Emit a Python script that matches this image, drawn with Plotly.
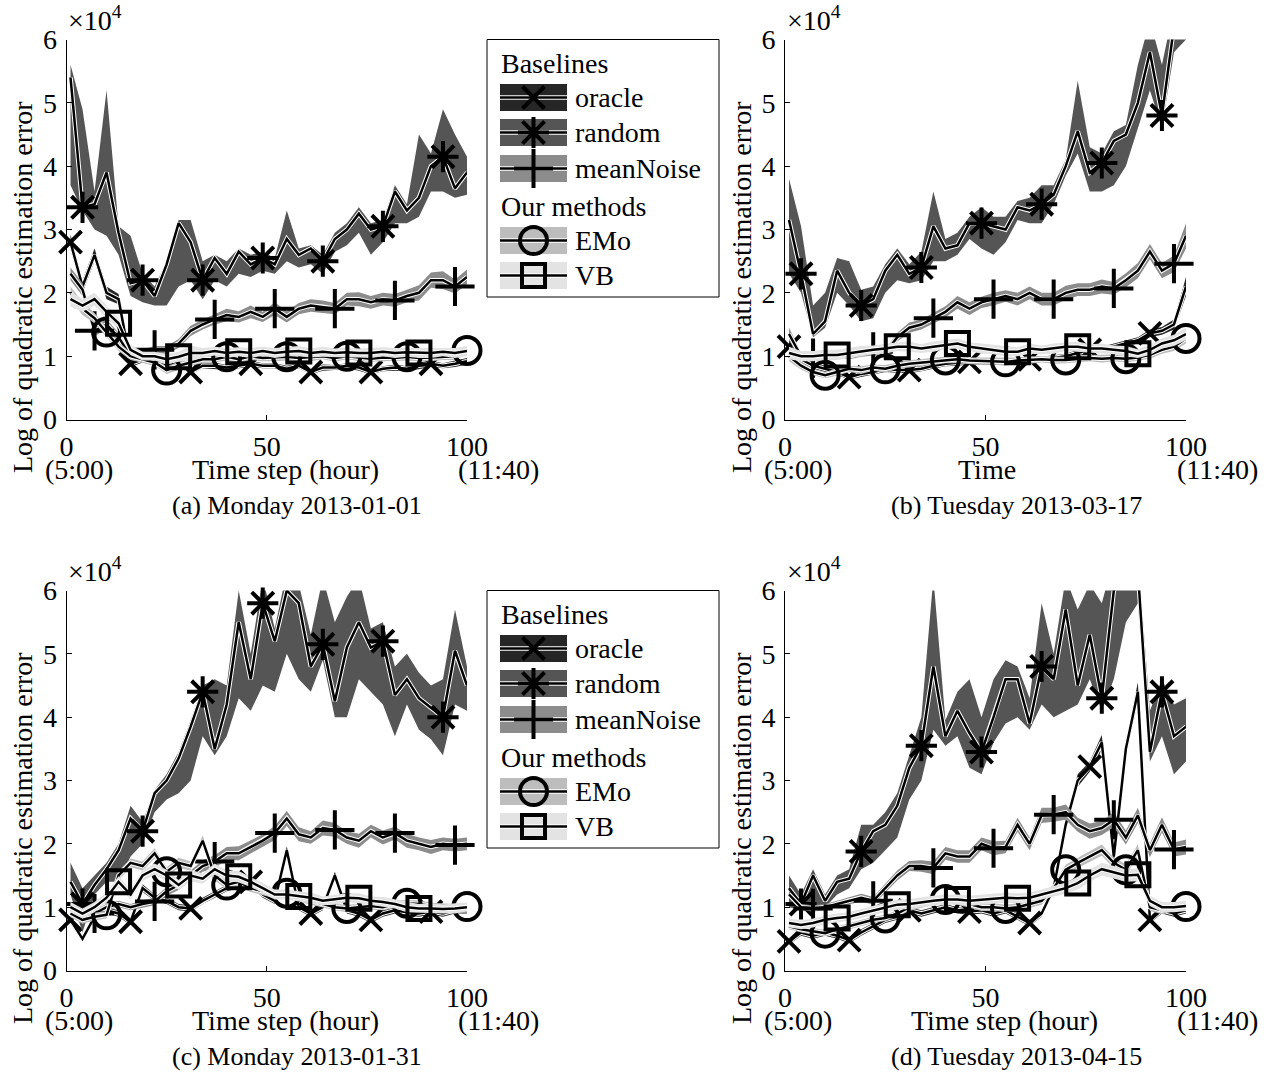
import plotly.graph_objects as go

FONT = "Liberation Serif"
X = list(range(1, 101, 3))  # time steps 1,4,...,100 (34 samples)

SERIES = ["oracle", "random", "meanNoise", "EMo", "VB"]
BAND_COLORS = {"oracle": "#262626", "random": "#555555", "meanNoise": "#8c8c8c",
               "EMo": "#bdbdbd", "VB": "#e3e3e3"}
SYMBOLS = {"oracle": ("x-thin-open", 22), "random": ("asterisk-open", 26),
           "meanNoise": ("cross-thin-open", 28), "EMo": ("circle-open", 27),
           "VB": ("square-open", 23)}
MARK_OFFSET = {"oracle": 0, "random": 1, "meanNoise": 2, "EMo": 3, "VB": 4}

CAPTIONS = ["(a) Monday 2013-01-01", "(b) Tuesday 2013-03-17",
            "(c) Monday 2013-01-31", "(d) Tuesday 2013-04-15"]
XTITLES = ["Time step (hour)", "Time", "Time step (hour)", "Time step (hour)"]
YTITLE = "Log of quadratic estimation error"
XTICKS = [0, 50, 100]
XTICKTEXT = ["0", "50", "100"]
XSUBTEXT = ["(5:00)", "(11:40)"]
YTICKS = [0, 1, 2, 3, 4, 5, 6]

# ---------------- panel (a) ----------------
oracle_a = [2.8,2.1,2.6,2.0,1.9,0.88,0.95,0.9,0.85,0.9, 0.75,0.85,0.85,0.82,0.85,0.88,0.85,0.85,0.8,0.85, 0.75,0.82,0.82,0.85,0.82,0.75,0.8,0.82,0.8,0.85, 0.88,0.85,0.88,0.92]
oracle_a_sp = [0.12,0.1,0.1,0.1,0.08,0.05,0.05,0.04,0.04,0.05, 0.04,0.04,0.05,0.04,0.04,0.05,0.04,0.04,0.05,0.04, 0.04,0.05,0.04,0.04,0.05,0.04,0.04,0.05,0.04,0.05, 0.05,0.04,0.05,0.05]
random_a = [5.4,3.35,3.4,3.9,2.95,2.15,2.2,1.95,2.45,3.1, 2.8,2.2,2.55,2.3,2.65,2.45,2.55,2.45,2.85,2.6, 2.7,2.5,2.85,3.0,3.25,3.0,3.05,3.6,3.3,3.5, 4.0,4.15,3.65,3.9]
random_a_lo = [3.7,3.3,3.0,2.9,2.6,1.95,1.85,1.8,1.8,2.1, 2.2,1.9,2.2,2.1,2.3,2.25,2.35,2.3,2.5,2.4, 2.45,2.3,2.65,2.75,2.95,2.6,2.8,3.1,3.1,3.2, 3.6,3.6,3.5,3.55]
random_a_hi = [5.6,4.9,3.6,5.2,3.05,2.9,2.3,2.1,2.5,3.15, 3.15,2.5,2.6,2.5,2.7,2.6,2.65,2.55,3.3,2.7, 2.75,2.6,2.95,3.1,3.35,3.1,3.15,3.7,3.4,4.5, 4.2,4.9,4.5,4.15]
noise_a = [2.3,2.05,1.4,1.5,1.3,1.0,1.05,1.1,1.1,1.2, 1.4,1.5,1.58,1.65,1.62,1.7,1.62,1.75,1.62,1.75, 1.8,1.78,1.75,1.9,1.9,1.85,1.9,1.88,1.95,2.0, 2.2,2.2,2.1,2.25]
noise_a_sp = [0.1,0.1,0.08,0.08,0.07,0.06,0.06,0.06,0.06,0.07, 0.08,0.08,0.08,0.1,0.09,0.1,0.08,0.1,0.09,0.09, 0.1,0.1,0.09,0.1,0.11,0.1,0.1,0.1,0.1,0.12, 0.12,0.14,0.11,0.12]
emo_a = [2.0,1.75,1.6,1.38,1.15,1.0,0.95,0.9,0.78,0.85, 0.9,0.95,0.95,0.99,0.95,1.0,0.97,0.98,0.99,0.97, 0.98,1.0,0.97,1.0,0.98,0.96,0.98,0.97,0.99,0.97, 0.98,0.99,1.0,1.09]
emo_a_sp = [0.1,0.1,0.08,0.08,0.07,0.06,0.06,0.05,0.06,0.06, 0.05,0.06,0.05,0.06,0.05,0.06,0.05,0.06,0.06,0.05, 0.06,0.05,0.06,0.05,0.06,0.05,0.06,0.05,0.06,0.05, 0.06,0.05,0.06,0.06]
vb_a = [1.9,1.8,1.9,1.7,1.52,1.1,1.0,1.0,0.95,0.99, 1.05,1.05,1.08,1.05,1.07,1.05,1.08,1.05,1.07,1.08, 1.05,1.07,1.05,1.06,1.05,1.05,1.07,1.05,1.06,1.05, 1.05,1.07,1.05,1.08]
vb_a_sp = [0.12,0.1,0.1,0.1,0.08,0.08,0.07,0.07,0.08,0.08, 0.12,0.08,0.07,0.08,0.07,0.08,0.07,0.08,0.07,0.08, 0.07,0.08,0.07,0.08,0.07,0.08,0.07,0.08,0.07,0.08, 0.08,0.07,0.08,0.08]

# ---------------- panel (b) ----------------
oracle_b = [1.15,0.95,0.85,0.8,0.75,0.67,0.72,0.75,0.8,0.78, 0.78,0.8,0.85,0.88,0.9,0.91,0.92,0.9,0.92,0.93, 0.95,0.95,0.97,1.0,1.05,1.1,1.1,1.15,1.2,1.25, 1.36,1.4,1.5,2.1]
oracle_b_sp = [0.1,0.06,0.05,0.05,0.05,0.04,0.05,0.04,0.05,0.04, 0.05,0.04,0.05,0.04,0.05,0.04,0.05,0.04,0.05,0.04, 0.05,0.04,0.05,0.04,0.05,0.04,0.05,0.05,0.05,0.05, 0.06,0.06,0.08,0.15]
random_b = [3.15,2.3,1.35,1.55,2.35,2.0,1.8,1.9,2.35,2.6, 2.3,2.4,3.05,2.7,2.75,3.1,3.1,3.05,3.0,3.35, 3.3,3.4,3.55,4.0,4.55,3.9,4.05,4.4,4.5,5.0, 5.8,4.8,6.2,6.5]
random_b_lo = [2.3,2.0,1.3,1.45,2.0,1.8,1.55,1.6,2.0,2.2, 2.15,2.2,2.5,2.5,2.6,2.85,2.7,2.6,2.8,3.15, 3.1,3.1,3.4,3.85,4.2,3.6,3.6,3.7,4.0,4.6, 5.2,4.6,5.8,6.0]
random_b_hi = [3.8,3.05,1.8,2.0,2.55,2.5,2.05,2.1,2.45,2.7, 2.45,2.65,3.6,2.85,2.95,3.2,3.35,3.2,3.2,3.45, 3.5,3.7,3.7,4.1,5.35,4.3,4.2,4.55,4.65,5.6, 6.3,5.6,6.5,7.0]
noise_b = [1.35,1.0,0.97,1.0,1.02,1.0,1.05,1.07,1.05,1.3, 1.45,1.5,1.6,1.7,1.85,1.75,1.85,1.9,1.95,1.9, 2.0,1.9,1.9,2.0,2.05,2.05,2.1,2.07,2.2,2.35, 2.65,2.35,2.46,2.9]
noise_b_sp = [0.1,0.06,0.05,0.05,0.05,0.05,0.06,0.06,0.06,0.07, 0.08,0.08,0.08,0.09,0.1,0.1,0.09,0.1,0.09,0.1, 0.1,0.1,0.1,0.11,0.1,0.1,0.11,0.1,0.11,0.12, 0.12,0.12,0.13,0.2]
emo_b = [1.0,0.85,0.75,0.7,0.75,0.8,0.78,0.82,0.8,0.85, 0.88,0.9,0.92,0.94,0.95,0.93,0.92,0.92,0.91,0.93, 0.94,0.95,0.94,0.94,0.96,0.97,0.96,0.97,0.96,0.98, 1.02,1.1,1.15,1.28]
emo_b_sp = [0.08,0.06,0.05,0.05,0.06,0.05,0.06,0.05,0.06,0.05, 0.06,0.05,0.06,0.05,0.06,0.05,0.06,0.05,0.06,0.05, 0.06,0.05,0.06,0.05,0.06,0.05,0.06,0.05,0.06,0.05, 0.06,0.06,0.07,0.08]
vb_b = [1.05,1.0,1.0,1.02,1.02,1.05,1.08,1.1,1.12,1.15, 1.15,1.12,1.15,1.18,1.2,1.15,1.12,1.1,1.07,1.07, 1.12,1.1,1.12,1.15,1.15,1.12,1.12,1.1,1.08,1.04, 1.1,1.2,1.25,1.35]
vb_b_sp = [0.1,0.08,0.08,0.08,0.08,0.08,0.08,0.07,0.08,0.07, 0.08,0.07,0.08,0.07,0.08,0.07,0.08,0.07,0.08,0.07, 0.08,0.07,0.08,0.07,0.08,0.07,0.08,0.07,0.08,0.07, 0.08,0.08,0.09,0.1]

# ---------------- panel (c) ----------------
oracle_c = [0.8,0.5,0.85,0.95,0.9,0.77,1.3,1.15,1.1,1.0, 0.98,1.1,1.2,1.3,1.35,1.4,1.2,1.1,1.9,1.0, 0.9,1.0,1.5,0.95,0.9,0.8,0.9,0.95,0.92,0.9, 0.93,0.9,0.95,0.95]
oracle_c_sp = [0.06,0.05,0.05,0.05,0.05,0.05,0.06,0.05,0.05,0.05, 0.05,0.05,0.05,0.05,0.05,0.05,0.05,0.05,0.06,0.05, 0.05,0.05,0.06,0.05,0.05,0.05,0.05,0.05,0.05,0.05, 0.05,0.05,0.05,0.05]
random_c = [1.4,1.05,1.35,1.6,1.9,2.4,2.2,2.8,3.0,3.35, 3.85,4.4,3.5,4.2,5.5,4.6,5.8,5.2,6.0,5.8, 4.8,5.15,4.25,5.1,5.5,5.1,5.2,4.35,4.6,4.3, 4.15,4.0,5.05,4.5]
random_c_lo = [1.2,0.6,1.2,1.4,1.4,1.8,2.0,2.5,2.7,2.8, 3.0,3.7,3.4,3.7,4.3,4.1,4.5,4.4,5.0,4.6, 4.4,4.9,4.0,4.0,4.6,4.4,4.2,3.7,4.2,3.8, 3.65,3.4,4.2,4.1]
random_c_hi = [1.7,1.3,1.5,1.7,2.0,2.6,2.35,2.85,3.1,3.45, 3.95,4.5,4.6,4.5,6.0,5.0,6.2,5.4,6.3,6.1, 5.3,6.2,5.5,5.9,6.2,5.4,5.5,4.8,5.0,4.7, 4.5,4.6,5.7,4.8]
noise_c = [1.0,0.92,0.9,1.0,1.05,1.0,1.05,1.09,1.25,1.35, 1.5,1.65,1.72,1.85,1.85,1.95,2.05,2.17,2.4,2.15, 2.1,2.25,2.22,2.1,2.05,2.2,2.1,2.17,2.05,2.0, 1.95,2.0,1.98,2.0]
noise_c_sp = [0.06,0.05,0.05,0.05,0.05,0.05,0.06,0.06,0.07,0.08, 0.08,0.09,0.1,0.1,0.11,0.1,0.1,0.11,0.12,0.11, 0.1,0.12,0.11,0.1,0.11,0.1,0.11,0.1,0.11,0.1, 0.11,0.1,0.1,0.1]
emo_c = [0.9,0.8,0.85,0.88,1.5,1.7,1.65,1.85,1.56,1.7, 1.65,2.05,1.5,1.35,1.4,1.3,1.25,1.2,1.22,1.15, 1.1,1.05,1.0,0.98,1.0,1.02,1.0,1.05,1.06,1.05, 1.02,1.0,1.0,1.01]
emo_c_sp = [0.06,0.06,0.06,0.06,0.07,0.07,0.07,0.08,0.07,0.08, 0.07,0.08,0.07,0.07,0.07,0.06,0.06,0.06,0.06,0.06, 0.06,0.06,0.05,0.06,0.05,0.06,0.05,0.06,0.05,0.06, 0.05,0.06,0.05,0.06]
vb_c = [1.0,0.9,1.0,1.15,1.4,1.2,1.5,1.6,1.5,1.35, 1.5,1.45,1.6,1.5,1.48,1.4,1.3,1.2,1.2,1.17, 1.15,1.1,1.12,1.15,1.14,1.1,1.08,1.05,1.0,0.98, 0.98,0.97,0.98,1.0]
vb_c_sp = [0.08,0.08,0.08,0.08,0.09,0.08,0.09,0.09,0.09,0.08, 0.09,0.08,0.09,0.08,0.09,0.08,0.08,0.08,0.08,0.08, 0.08,0.07,0.08,0.07,0.08,0.07,0.08,0.07,0.08,0.07, 0.08,0.07,0.08,0.07]

# ---------------- panel (d) ----------------
oracle_d = [0.46,0.6,0.55,0.6,0.55,0.48,0.6,0.7,0.8,0.85, 0.95,0.9,0.95,1.0,0.95,0.93,0.95,0.9,0.95,0.85, 0.75,0.9,1.3,2.3,3.0,3.22,3.6,1.8,3.5,4.4, 0.8,0.95,0.9,0.95]
oracle_d_sp = [0.05,0.05,0.05,0.05,0.05,0.05,0.05,0.05,0.05,0.05, 0.05,0.05,0.05,0.05,0.05,0.05,0.05,0.05,0.05,0.05, 0.05,0.05,0.07,0.1,0.1,0.08,0.12,0.1,0.12,0.15, 0.05,0.05,0.05,0.05]
random_d = [1.3,1.05,1.5,1.1,1.4,1.45,1.88,2.2,2.3,2.6, 3.2,3.55,4.8,3.7,4.1,3.75,3.45,4.0,4.6,4.6, 3.9,4.8,4.6,5.7,4.5,5.3,4.3,6.0,6.3,6.3, 3.45,4.4,3.7,3.85]
random_d_lo = [1.0,0.95,0.95,1.0,1.2,1.3,1.6,1.7,1.9,2.1, 2.7,3.0,3.8,3.55,3.7,3.2,3.1,3.6,3.9,4.0, 3.8,4.2,4.0,4.1,4.2,4.6,4.1,4.6,5.5,5.8, 3.3,3.7,3.1,3.3]
random_d_hi = [1.5,1.2,1.6,1.2,1.5,1.6,2.3,2.3,2.5,2.8, 3.4,4.0,6.2,3.95,4.4,4.6,4.0,4.6,4.9,4.8, 4.3,5.8,5.0,6.2,5.7,6.1,5.8,6.5,6.6,6.6, 4.1,4.6,4.2,4.3]
noise_d = [1.2,1.0,0.98,1.0,1.05,1.1,1.15,1.1,1.3,1.5, 1.65,1.65,1.62,1.85,1.8,1.8,2.0,1.93,1.95,2.3, 2.0,2.45,2.46,2.5,2.3,2.2,2.25,2.38,2.1,2.45, 1.9,2.3,1.91,1.95]
noise_d_sp = [0.06,0.05,0.05,0.05,0.05,0.05,0.06,0.06,0.07,0.08, 0.08,0.09,0.1,0.1,0.1,0.1,0.1,0.11,0.1,0.11, 0.1,0.12,0.11,0.12,0.11,0.12,0.11,0.12,0.11,0.12, 0.11,0.12,0.11,0.12]
emo_d = [0.7,0.65,0.62,0.59,0.65,0.7,0.75,0.8,0.83,0.9, 1.0,1.05,1.1,1.12,1.1,1.05,1.0,1.0,0.98,1.0, 1.05,1.1,1.3,1.59,1.7,1.8,1.9,1.7,1.59,1.9, 1.0,0.95,1.0,1.01]
emo_d_sp = [0.05,0.05,0.05,0.05,0.05,0.05,0.05,0.05,0.05,0.05, 0.06,0.06,0.06,0.06,0.06,0.06,0.06,0.06,0.06,0.06, 0.06,0.06,0.07,0.08,0.08,0.09,0.09,0.08,0.09,0.09, 0.06,0.06,0.06,0.06]
vb_d = [0.75,0.72,0.75,0.8,0.83,0.85,0.9,0.95,1.0,1.04, 1.05,1.08,1.1,1.12,1.12,1.1,1.12,1.14,1.15,1.14, 1.15,1.2,1.25,1.3,1.38,1.5,1.6,1.55,1.5,1.51, 1.1,1.0,1.0,1.02]
vb_d_sp = [0.07,0.07,0.07,0.07,0.07,0.07,0.07,0.07,0.08,0.08, 0.08,0.08,0.08,0.08,0.08,0.08,0.08,0.08,0.08,0.08, 0.08,0.08,0.09,0.09,0.1,0.1,0.1,0.1,0.1,0.1, 0.08,0.08,0.08,0.08]

PANELS = [
    {"oracle": (oracle_a, oracle_a_sp), "random": (random_a, random_a_lo, random_a_hi),
     "meanNoise": (noise_a, noise_a_sp), "EMo": (emo_a, emo_a_sp), "VB": (vb_a, vb_a_sp)},
    {"oracle": (oracle_b, oracle_b_sp), "random": (random_b, random_b_lo, random_b_hi),
     "meanNoise": (noise_b, noise_b_sp), "EMo": (emo_b, emo_b_sp), "VB": (vb_b, vb_b_sp)},
    {"oracle": (oracle_c, oracle_c_sp), "random": (random_c, random_c_lo, random_c_hi),
     "meanNoise": (noise_c, noise_c_sp), "EMo": (emo_c, emo_c_sp), "VB": (vb_c, vb_c_sp)},
    {"oracle": (oracle_d, oracle_d_sp), "random": (random_d, random_d_lo, random_d_hi),
     "meanNoise": (noise_d, noise_d_sp), "EMo": (emo_d, emo_d_sp), "VB": (vb_d, vb_d_sp)},
]

# ---------------- layout geometry (pixels) ----------------
W, H = 1274, 1075
PX_X = [(66.5, 467), (785, 1186), (66.5, 467), (785, 1186)]
PX_Y = [(39.5, 419.5), (39.5, 419.5), (590.5, 970.5), (590.5, 970.5)]
OFFS = [(0, 0), (719, 0), (0, 551), (719, 551)]
FS = 28

fig = go.Figure()

def ax_name(i, kind):
    return kind if i == 0 else f"{kind}{i + 1}"

for p, panel in enumerate(PANELS):
    xa, ya = ax_name(p, "x"), ax_name(p, "y")
    for s in SERIES:
        vals = panel[s]
        mean = vals[0]
        if s == "random":
            lo, hi = vals[1], vals[2]
        else:
            lo = [m - d for m, d in zip(mean, vals[1])]
            hi = [m + d for m, d in zip(mean, vals[1])]
        fig.add_trace(go.Scatter(x=X, y=lo, mode="lines", line=dict(width=0, color=BAND_COLORS[s]),
                                 xaxis=xa, yaxis=ya, showlegend=False, hoverinfo="skip"))
        fig.add_trace(go.Scatter(x=X, y=hi, mode="lines", line=dict(width=0, color=BAND_COLORS[s]),
                                 fill="tonexty", fillcolor=BAND_COLORS[s],
                                 xaxis=xa, yaxis=ya, showlegend=False, hoverinfo="skip"))
        fig.add_trace(go.Scatter(x=X, y=mean, mode="lines", line=dict(width=4.5, color="white"),
                                 xaxis=xa, yaxis=ya, showlegend=False, hoverinfo="skip"))
        fig.add_trace(go.Scatter(x=X, y=mean, mode="lines", line=dict(width=2.5, color="black"),
                                 xaxis=xa, yaxis=ya, showlegend=False, name=s))
        idx = list(range(MARK_OFFSET[s], len(X), 5))
        sym, size = SYMBOLS[s]
        fig.add_trace(go.Scatter(x=[X[i] for i in idx], y=[mean[i] for i in idx], mode="markers",
                                 marker=dict(symbol=sym, size=size, color="black",
                                             line=dict(color="black", width=4)),
                                 cliponaxis=False, xaxis=xa, yaxis=ya, showlegend=False, name=s))

# ---------------- axes ----------------
tickfont = dict(family=FONT, size=FS, color="black")
layout_axes = {}
for p in range(4):
    x0, x1 = PX_X[p]
    ytop, ybot = PX_Y[p]
    xk = "xaxis" if p == 0 else f"xaxis{p + 1}"
    yk = "yaxis" if p == 0 else f"yaxis{p + 1}"
    layout_axes[xk] = dict(domain=[x0 / W, x1 / W], range=[0, 100], anchor=ax_name(p, "y"),
                           tickvals=XTICKS, ticktext=XTICKTEXT, ticks="inside", ticklen=5,
                           tickcolor="black", showline=True, linecolor="black", linewidth=1,
                           showgrid=False, zeroline=False, tickfont=tickfont,
                           ticklabelstandoff=2, fixedrange=True, automargin=False)
    layout_axes[yk] = dict(domain=[1 - ybot / H, 1 - ytop / H], range=[0, 6], anchor=ax_name(p, "x"),
                           tickvals=YTICKS, ticks="inside", ticklen=5, tickcolor="black",
                           showline=True, linecolor="black", linewidth=1, showgrid=False,
                           zeroline=False, tickfont=tickfont, ticklabelstandoff=3, fixedrange=True,
                           automargin=False)

# overlay axis in pixel units for legend and texts
layout_axes["xaxis5"] = dict(domain=[0, 1], range=[0, W], visible=False, anchor="y5", fixedrange=True)
layout_axes["yaxis5"] = dict(domain=[0, 1], range=[H, 0], visible=False, anchor="x5", fixedrange=True)

# ---------------- legends (drawn on pixel overlay) ----------------
LEG_ROWS = [("oracle", 97.5), ("random", 132.5), ("meanNoise", 168.5), ("EMo", 240.5), ("VB", 275.5)]
LEG_HEADERS = [("Baselines", 63), ("Our methods", 206)]
shapes = []
annotations = []
for dy in (0, 551):
    shapes.append(dict(type="rect", xref="x5", yref="y5", x0=487, x1=719, y0=39.5 + dy, y1=297 + dy,
                       line=dict(color="black", width=1), fillcolor="rgba(0,0,0,0)", layer="above"))
    for name, cy in LEG_ROWS:
        cy = cy + dy
        fig.add_trace(go.Scatter(x=[500, 567, 567, 500, 500], y=[cy - 13.5, cy - 13.5, cy + 13.5, cy + 13.5, cy - 13.5],
                                 mode="lines", fill="toself", fillcolor=BAND_COLORS[name],
                                 line=dict(width=0), xaxis="x5", yaxis="y5", showlegend=False, hoverinfo="skip"))
        fig.add_trace(go.Scatter(x=[500, 567], y=[cy, cy], mode="lines", line=dict(width=4.5, color="white"),
                                 xaxis="x5", yaxis="y5", showlegend=False, hoverinfo="skip"))
        fig.add_trace(go.Scatter(x=[500, 567], y=[cy, cy], mode="lines", line=dict(width=2.5, color="black"),
                                 xaxis="x5", yaxis="y5", showlegend=False, hoverinfo="skip"))
        sym, size = SYMBOLS[name]
        fig.add_trace(go.Scatter(x=[533.5], y=[cy], mode="markers",
                                 marker=dict(symbol=sym, size=size, color="black", line=dict(color="black", width=4)),
                                 xaxis="x5", yaxis="y5", showlegend=False, hoverinfo="skip"))
        annotations.append(dict(xref="x5", yref="y5", x=573, y=cy, text=name, showarrow=False,
                                xanchor="left", yanchor="middle", font=dict(family=FONT, size=FS, color="black")))
    for text, cy in LEG_HEADERS:
        annotations.append(dict(xref="x5", yref="y5", x=499, y=cy + dy, text=text, showarrow=False,
                                xanchor="left", yanchor="middle", font=dict(family=FONT, size=FS, color="black")))

# ---------------- texts ----------------
XT_CENTER = [285, 987, 285, 1004]
for p, (dx, dy) in enumerate(OFFS):
    fnt = dict(family=FONT, size=FS, color="black")
    annotations.append(dict(xref="x5", yref="y5", x=66 + dx, y=18 + dy, text="×10<sup>4</sup>",
                            showarrow=False, xanchor="left", yanchor="middle", font=fnt))
    annotations.append(dict(xref="x5", yref="y5", x=22 + dx, y=287 + dy, text=YTITLE, textangle=-90,
                            showarrow=False, xanchor="center", yanchor="middle", font=fnt))
    annotations.append(dict(xref="x5", yref="y5", x=79 + dx, y=469 + dy, text=XSUBTEXT[0],
                            showarrow=False, xanchor="center", yanchor="middle", font=fnt))
    annotations.append(dict(xref="x5", yref="y5", x=498 + dx, y=469 + dy, text=XSUBTEXT[1],
                            showarrow=False, xanchor="center", yanchor="middle", font=fnt))
    annotations.append(dict(xref="x5", yref="y5", x=XT_CENTER[p], y=469 + dy, text=XTITLES[p],
                            showarrow=False, xanchor="center", yanchor="middle", font=fnt))
    annotations.append(dict(xref="x5", yref="y5", x=297 + dx, y=505 + dy, text=CAPTIONS[p],
                            showarrow=False, xanchor="center", yanchor="middle",
                            font=dict(family=FONT, size=26, color="black")))

fig.update_layout(width=W, height=H, margin=dict(l=0, r=0, t=0, b=0, pad=0, autoexpand=False),
                  paper_bgcolor="white", plot_bgcolor="rgba(0,0,0,0)",
                  showlegend=False, shapes=shapes, annotations=annotations, **layout_axes)

fig.write_html("out.html", config={"displayModeBar": False},
               post_script="document.body.style.margin='0';document.body.style.overflow='hidden';")
